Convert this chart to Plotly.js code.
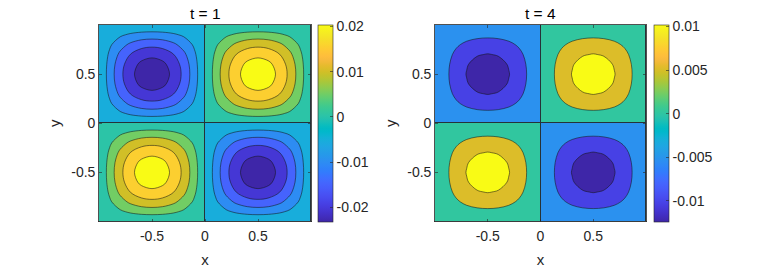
<!DOCTYPE html>
<html>
<head>
<meta charset="utf-8">
<script src="https://cdn.plot.ly/plotly-3.0.1.min.js"></script>
<style>html,body{margin:0;padding:0;background:#fff;}#chart{width:763px;height:268px;}</style>
</head>
<body>
<div id="chart"></div>
<script>
// ---- data ----
var xs = [-1,-0.9,-0.8,-0.7,-0.6,-0.5,-0.4,-0.3,-0.2,-0.1,0,0.1,0.2,0.3,0.4,0.5,0.6,0.7,0.8,0.9,1];
var ys = [-1,-0.9,-0.8,-0.7,-0.6,-0.5,-0.4,-0.3,-0.2,-0.1,0,0.1,0.2,0.3,0.4,0.5,0.6,0.7,0.8,0.9,1];

var titles = ['t = 1', 't = 4'];

// u(x,y) at t = 1 (rows: y from -1 to 1, columns: x from -1 to 1)
var zT1 = [
[0,0,0,0,0,0,0,0,0,0,0,0,0,0,0,0,0,0,0,0,0],
[0,.00223,.00423,.00582,.00685,.0072,.00685,.00582,.00423,.00223,0,-.00223,-.00423,-.00582,-.00685,-.0072,-.00685,-.00582,-.00423,-.00223,0],
[0,.00423,.00806,.01108,.01303,.0137,.01303,.01108,.00806,.00423,0,-.00423,-.00806,-.01108,-.01303,-.0137,-.01303,-.01108,-.00806,-.00423,0],
[0,.00582,.01108,.01525,.01793,.01885,.01793,.01525,.01108,.00582,0,-.00582,-.01108,-.01525,-.01793,-.01885,-.01793,-.01525,-.01108,-.00582,0],
[0,.00685,.01303,.01793,.02107,.02216,.02107,.01793,.01303,.00685,0,-.00685,-.01303,-.01793,-.02107,-.02216,-.02107,-.01793,-.01303,-.00685,0],
[0,.0072,.0137,.01885,.02216,.0233,.02216,.01885,.0137,.0072,0,-.0072,-.0137,-.01885,-.02216,-.0233,-.02216,-.01885,-.0137,-.0072,0],
[0,.00685,.01303,.01793,.02107,.02216,.02107,.01793,.01303,.00685,0,-.00685,-.01303,-.01793,-.02107,-.02216,-.02107,-.01793,-.01303,-.00685,0],
[0,.00582,.01108,.01525,.01793,.01885,.01793,.01525,.01108,.00582,0,-.00582,-.01108,-.01525,-.01793,-.01885,-.01793,-.01525,-.01108,-.00582,0],
[0,.00423,.00806,.01108,.01303,.0137,.01303,.01108,.00806,.00423,0,-.00423,-.00806,-.01108,-.01303,-.0137,-.01303,-.01108,-.00806,-.00423,0],
[0,.00223,.00423,.00582,.00685,.0072,.00685,.00582,.00423,.00223,0,-.00223,-.00423,-.00582,-.00685,-.0072,-.00685,-.00582,-.00423,-.00223,0],
[0,0,0,0,0,0,0,0,0,0,0,0,0,0,0,0,0,0,0,0,0],
[0,-.00223,-.00423,-.00582,-.00685,-.0072,-.00685,-.00582,-.00423,-.00223,0,.00223,.00423,.00582,.00685,.0072,.00685,.00582,.00423,.00223,0],
[0,-.00423,-.00806,-.01108,-.01303,-.0137,-.01303,-.01108,-.00806,-.00423,0,.00423,.00806,.01108,.01303,.0137,.01303,.01108,.00806,.00423,0],
[0,-.00582,-.01108,-.01525,-.01793,-.01885,-.01793,-.01525,-.01108,-.00582,0,.00582,.01108,.01525,.01793,.01885,.01793,.01525,.01108,.00582,0],
[0,-.00685,-.01303,-.01793,-.02107,-.02216,-.02107,-.01793,-.01303,-.00685,0,.00685,.01303,.01793,.02107,.02216,.02107,.01793,.01303,.00685,0],
[0,-.0072,-.0137,-.01885,-.02216,-.0233,-.02216,-.01885,-.0137,-.0072,0,.0072,.0137,.01885,.02216,.0233,.02216,.01885,.0137,.0072,0],
[0,-.00685,-.01303,-.01793,-.02107,-.02216,-.02107,-.01793,-.01303,-.00685,0,.00685,.01303,.01793,.02107,.02216,.02107,.01793,.01303,.00685,0],
[0,-.00582,-.01108,-.01525,-.01793,-.01885,-.01793,-.01525,-.01108,-.00582,0,.00582,.01108,.01525,.01793,.01885,.01793,.01525,.01108,.00582,0],
[0,-.00423,-.00806,-.01108,-.01303,-.0137,-.01303,-.01108,-.00806,-.00423,0,.00423,.00806,.01108,.01303,.0137,.01303,.01108,.00806,.00423,0],
[0,-.00223,-.00423,-.00582,-.00685,-.0072,-.00685,-.00582,-.00423,-.00223,0,.00223,.00423,.00582,.00685,.0072,.00685,.00582,.00423,.00223,0],
[0,0,0,0,0,0,0,0,0,0,0,0,0,0,0,0,0,0,0,0,0]
];

// u(x,y) at t = 4
var zT4 = [
[0,0,0,0,0,0,0,0,0,0,0,0,0,0,0,0,0,0,0,0,0],
[0,.0012,.00229,.00315,.0037,.00389,.0037,.00315,.00229,.0012,0,-.0012,-.00229,-.00315,-.0037,-.00389,-.0037,-.00315,-.00229,-.0012,0],
[0,.00229,.00436,.00599,.00704,.00741,.00704,.00599,.00436,.00229,0,-.00229,-.00436,-.00599,-.00704,-.00741,-.00704,-.00599,-.00436,-.00229,0],
[0,.00315,.00599,.00824,.00969,.01019,.00969,.00824,.00599,.00315,0,-.00315,-.00599,-.00824,-.00969,-.01019,-.00969,-.00824,-.00599,-.00315,0],
[0,.0037,.00704,.00969,.01139,.01198,.01139,.00969,.00704,.0037,0,-.0037,-.00704,-.00969,-.01139,-.01198,-.01139,-.00969,-.00704,-.0037,0],
[0,.00389,.00741,.01019,.01198,.0126,.01198,.01019,.00741,.00389,0,-.00389,-.00741,-.01019,-.01198,-.0126,-.01198,-.01019,-.00741,-.00389,0],
[0,.0037,.00704,.00969,.01139,.01198,.01139,.00969,.00704,.0037,0,-.0037,-.00704,-.00969,-.01139,-.01198,-.01139,-.00969,-.00704,-.0037,0],
[0,.00315,.00599,.00824,.00969,.01019,.00969,.00824,.00599,.00315,0,-.00315,-.00599,-.00824,-.00969,-.01019,-.00969,-.00824,-.00599,-.00315,0],
[0,.00229,.00436,.00599,.00704,.00741,.00704,.00599,.00436,.00229,0,-.00229,-.00436,-.00599,-.00704,-.00741,-.00704,-.00599,-.00436,-.00229,0],
[0,.0012,.00229,.00315,.0037,.00389,.0037,.00315,.00229,.0012,0,-.0012,-.00229,-.00315,-.0037,-.00389,-.0037,-.00315,-.00229,-.0012,0],
[0,0,0,0,0,0,0,0,0,0,0,0,0,0,0,0,0,0,0,0,0],
[0,-.0012,-.00229,-.00315,-.0037,-.00389,-.0037,-.00315,-.00229,-.0012,0,.0012,.00229,.00315,.0037,.00389,.0037,.00315,.00229,.0012,0],
[0,-.00229,-.00436,-.00599,-.00704,-.00741,-.00704,-.00599,-.00436,-.00229,0,.00229,.00436,.00599,.00704,.00741,.00704,.00599,.00436,.00229,0],
[0,-.00315,-.00599,-.00824,-.00969,-.01019,-.00969,-.00824,-.00599,-.00315,0,.00315,.00599,.00824,.00969,.01019,.00969,.00824,.00599,.00315,0],
[0,-.0037,-.00704,-.00969,-.01139,-.01198,-.01139,-.00969,-.00704,-.0037,0,.0037,.00704,.00969,.01139,.01198,.01139,.00969,.00704,.0037,0],
[0,-.00389,-.00741,-.01019,-.01198,-.0126,-.01198,-.01019,-.00741,-.00389,0,.00389,.00741,.01019,.01198,.0126,.01198,.01019,.00741,.00389,0],
[0,-.0037,-.00704,-.00969,-.01139,-.01198,-.01139,-.00969,-.00704,-.0037,0,.0037,.00704,.00969,.01139,.01198,.01139,.00969,.00704,.0037,0],
[0,-.00315,-.00599,-.00824,-.00969,-.01019,-.00969,-.00824,-.00599,-.00315,0,.00315,.00599,.00824,.00969,.01019,.00969,.00824,.00599,.00315,0],
[0,-.00229,-.00436,-.00599,-.00704,-.00741,-.00704,-.00599,-.00436,-.00229,0,.00229,.00436,.00599,.00704,.00741,.00704,.00599,.00436,.00229,0],
[0,-.0012,-.00229,-.00315,-.0037,-.00389,-.0037,-.00315,-.00229,-.0012,0,.0012,.00229,.00315,.0037,.00389,.0037,.00315,.00229,.0012,0],
[0,0,0,0,0,0,0,0,0,0,0,0,0,0,0,0,0,0,0,0,0]
];

// contour level step / top level and colour limits
var levelsT1 = {step: 0.005, top: 0.02};
var levelsT4 = {step: 0.005, top: 0.01};
var climT1 = [-0.0232, 0.0204];
var climT4 = [-0.0124, 0.0102];

// tick labels
var axisTickVals = [-0.5, 0, 0.5];
var axisTickText = ['-0.5', '0', '0.5'];
var cbTickValsT1 = [-0.02, -0.01, 0, 0.01, 0.02];
var cbTickTextT1 = ['-0.02', '-0.01', '0', '0.01', '0.02'];
var cbTickValsT4 = [-0.01, -0.005, 0, 0.005, 0.01];
var cbTickTextT4 = ['-0.01', '-0.005', '0', '0.005', '0.01'];

// ---- style ----
var parula = [
[0.2422,0.1504,0.6603],[0.2504,0.1650,0.7076],[0.2578,0.1818,0.7511],[0.2647,0.1978,0.7952],
[0.2706,0.2147,0.8364],[0.2751,0.2342,0.8710],[0.2783,0.2559,0.8991],[0.2803,0.2782,0.9221],
[0.2813,0.3006,0.9414],[0.2810,0.3228,0.9579],[0.2795,0.3447,0.9717],[0.2760,0.3667,0.9829],
[0.2699,0.3892,0.9906],[0.2602,0.4123,0.9952],[0.2440,0.4358,0.9988],[0.2206,0.4603,0.9973],
[0.1963,0.4847,0.9892],[0.1834,0.5074,0.9798],[0.1786,0.5289,0.9682],[0.1764,0.5499,0.9520],
[0.1687,0.5703,0.9359],[0.1540,0.5902,0.9218],[0.1460,0.6091,0.9079],[0.1380,0.6276,0.8973],
[0.1248,0.6459,0.8883],[0.1113,0.6635,0.8763],[0.0952,0.6798,0.8598],[0.0689,0.6948,0.8394],
[0.0297,0.7082,0.8163],[0.0036,0.7203,0.7917],[0.0067,0.7312,0.7660],[0.0433,0.7411,0.7394],
[0.0964,0.7500,0.7120],[0.1408,0.7584,0.6842],[0.1717,0.7670,0.6554],[0.1938,0.7758,0.6251],
[0.2161,0.7843,0.5923],[0.2470,0.7918,0.5567],[0.2906,0.7973,0.5188],[0.3406,0.8008,0.4789],
[0.3909,0.8029,0.4354],[0.4456,0.8024,0.3909],[0.5044,0.7993,0.3480],[0.5616,0.7942,0.3045],
[0.6174,0.7876,0.2612],[0.6720,0.7793,0.2227],[0.7242,0.7698,0.1910],[0.7738,0.7598,0.1646],
[0.8203,0.7498,0.1535],[0.8634,0.7406,0.1596],[0.9035,0.7330,0.1774],[0.9393,0.7288,0.2100],
[0.9728,0.7298,0.2394],[0.9956,0.7434,0.2371],[0.9970,0.7659,0.2199],[0.9952,0.7893,0.2028],
[0.9892,0.8136,0.1885],[0.9786,0.8386,0.1766],[0.9676,0.8639,0.1643],[0.9610,0.8890,0.1537],
[0.9597,0.9135,0.1423],[0.9628,0.9373,0.1265],[0.9691,0.9606,0.1064],[0.9769,0.9839,0.0805]
];
function rgb(c){return 'rgb('+Math.round(c[0]*255)+','+Math.round(c[1]*255)+','+Math.round(c[2]*255)+')';}
var parulaScale = parula.map(function(c,i){return [i/(parula.length-1), rgb(c)];});
function cmapColor(v, clim){
  var s = (v - clim[0])/(clim[1]-clim[0]);
  var idx = Math.floor(s*parula.length);
  idx = Math.max(0, Math.min(parula.length-1, idx));
  return rgb(parula[idx]);
}
var CLEAR = 'rgba(0,0,0,0)';

var FONT = '"Liberation Sans", Arial, Helvetica, sans-serif';
var TXT = '#262626';
var LINE = {color: 'rgba(20,20,20,0.9)', width: 0.6};
var ZEROLINE = 'rgb(38,50,56)';
var W = 763, H = 268;
var plotTop = 25, plotBot = 221.5;
var xDom1 = [99/W, 311/W], xDom2 = [435/W, 646/W];
var yDom = [(H-plotBot)/H, (H-plotTop)/H];

// MATLAB-like contourf: each band takes the colour of its lower level.
// The zero level splits the square into sign quadrants (sampled from the data at the lobe centres);
// the positive and negative levels are drawn on top.
function contourTraces(z, lv, clim, xa, ya){
  var n = Math.round(lv.top/lv.step);
  var iLo = xs.indexOf(-0.5), iHi = xs.indexOf(0.5);
  var jLo = ys.indexOf(-0.5), jHi = ys.indexOf(0.5);
  var negC = cmapColor(-lv.step, clim), posC = cmapColor(0, clim);
  var quadrants = {
    type: 'heatmap', x: [xs[iLo], xs[iHi]], y: [ys[jLo], ys[jHi]],
    z: [[z[jLo][iLo], z[jLo][iHi]], [z[jHi][iLo], z[jHi][iHi]]],
    xaxis: xa, yaxis: ya, zmid: 0,
    colorscale: [[0, negC], [0.5, negC], [0.5, posC], [1, posC]],
    xgap: 1, ygap: 1, showscale: false, hoverinfo: 'skip'
  };
  var zNeg = z.map(function(r){return r.map(function(v){return -v;});});
  var posScale = [[0, CLEAR]], negScale = [[0, CLEAR]];
  for (var k = 1; k <= n; k++){
    posScale.push([k/n, cmapColor(k*lv.step, clim)]);
    negScale.push([k/n, k < n ? cmapColor(-(k+1)*lv.step, clim) : cmapColor(clim[0], clim)]);
  }
  var pos = {
    type: 'contour', x: xs, y: ys, z: z, xaxis: xa, yaxis: ya, autocontour: false,
    contours: {start: lv.step, end: lv.top, size: lv.step, coloring: 'fill', showlines: true},
    colorscale: posScale, line: {color: LINE.color, width: LINE.width, smoothing: 1},
    showscale: false, hoverinfo: 'skip'
  };
  var neg = {
    type: 'contour', x: xs, y: ys, z: zNeg, xaxis: xa, yaxis: ya, autocontour: false,
    contours: {start: lv.step, end: lv.top, size: lv.step, coloring: 'fill', showlines: true},
    colorscale: negScale, line: {color: LINE.color, width: LINE.width, smoothing: 1},
    showscale: false, hoverinfo: 'skip'
  };
  return [quadrants, pos, neg];
}
function colorbarTrace(clim, tv, tt, xa, ya, cbx){
  return {
    type: 'scatter', mode: 'markers', x: [0, 0], y: [0, 0], xaxis: xa, yaxis: ya,
    hoverinfo: 'skip', showlegend: false,
    marker: {size: 1, opacity: 0, color: clim, cmin: clim[0], cmax: clim[1],
      colorscale: parulaScale, showscale: true,
      colorbar: {x: cbx, xanchor: 'left', y: (H-(plotTop+plotBot)/2)/H, yanchor: 'middle',
        len: plotBot-plotTop, lenmode: 'pixels', thickness: 15, thicknessmode: 'pixels',
        xpad: 0, ypad: 0, outlinecolor: TXT, outlinewidth: 0.6,
        ticks: 'inside', ticklen: 3, tickcolor: TXT, tickwidth: 0.6,
        tickvals: tv, ticktext: tt, tickfont: {family: FONT, size: 14, color: TXT}}
    }
  };
}

var data = [].concat(
  contourTraces(zT1, levelsT1, climT1, 'x', 'y'),
  contourTraces(zT4, levelsT4, climT4, 'x2', 'y2'),
  [colorbarTrace(climT1, cbTickValsT1, cbTickTextT1, 'x', 'y', 317.5/W),
   colorbarTrace(climT4, cbTickValsT4, cbTickTextT4, 'x2', 'y2', 654/W)]
);

function xax(dom, anchor){
  return {domain: dom, anchor: anchor, range: [-1, 1], tickvals: axisTickVals, ticktext: axisTickText,
    ticks: 'inside', ticklen: 3, tickcolor: TXT, tickwidth: 0.6, showline: true, mirror: 'ticks',
    linecolor: TXT, linewidth: 0.8, showgrid: false, zeroline: false, ticklabelstandoff: 2,
    tickfont: {family: FONT, size: 14, color: TXT},
    title: {text: 'x', font: {family: FONT, size: 15, color: TXT}, standoff: 11}};
}
function yax(anchor){
  return {domain: yDom, anchor: anchor, range: [-1, 1], tickvals: axisTickVals, ticktext: axisTickText,
    ticks: 'inside', ticklen: 3, tickcolor: TXT, tickwidth: 0.6, showline: true, mirror: 'ticks',
    linecolor: TXT, linewidth: 0.8, showgrid: false, zeroline: false,
    tickfont: {family: FONT, size: 14, color: TXT},
    title: {text: 'y', font: {family: FONT, size: 15, color: TXT}, standoff: 6}};
}

var layout = {
  width: W, height: H, margin: {l: 0, r: 0, t: 0, b: 0},
  paper_bgcolor: '#ffffff', plot_bgcolor: ZEROLINE,
  showlegend: false,
  font: {family: FONT, color: TXT},
  xaxis: xax(xDom1, 'y'), yaxis: yax('x'),
  xaxis2: xax(xDom2, 'y2'), yaxis2: yax('x2'),
  annotations: [
    {text: titles[0], xref: 'paper', yref: 'paper', x: (xDom1[0]+xDom1[1])/2, y: (H-13.5)/H,
     xanchor: 'center', yanchor: 'middle', showarrow: false, font: {family: FONT, size: 15.5, color: '#000'}},
    {text: titles[1], xref: 'paper', yref: 'paper', x: (xDom2[0]+xDom2[1])/2, y: (H-13.5)/H,
     xanchor: 'center', yanchor: 'middle', showarrow: false, font: {family: FONT, size: 15.5, color: '#000'}}
  ]
};

Plotly.newPlot('chart', data, layout, {displayModeBar: false, staticPlot: true});
</script>
</body>
</html>
